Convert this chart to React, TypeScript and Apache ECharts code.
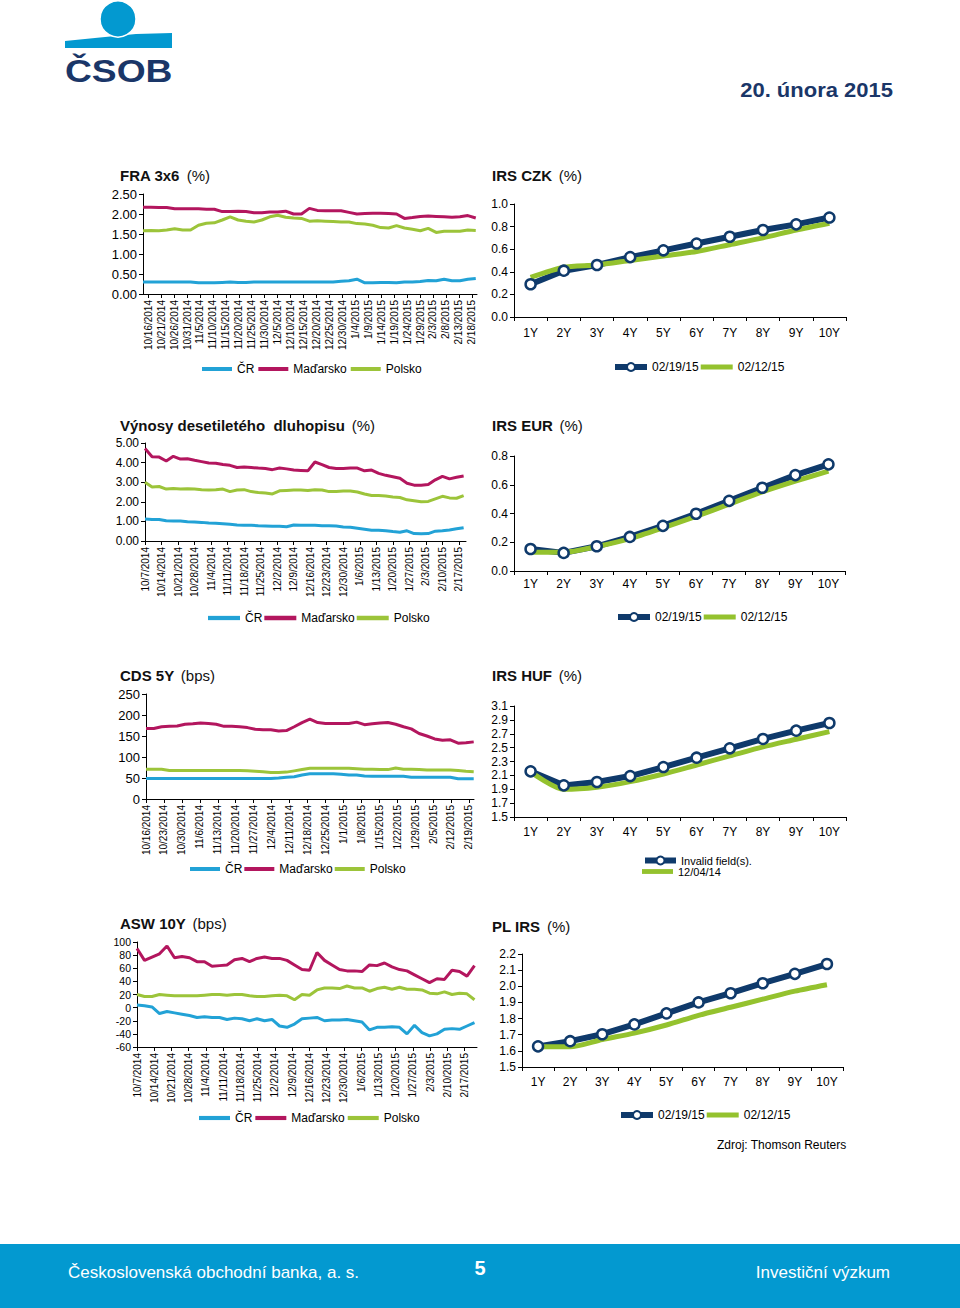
import React, { useEffect, useRef } from "react";
import * as echarts from "echarts";

const FONT = "'Liberation Sans', Arial, Helvetica, sans-serif";
const C_CR = "#22a2d6";
const C_HU = "#b3165e";
const C_PL = "#9cc43a";
const NAVY = "#0f3a6b";
const GREEN = "#94c22e";
const BRAND = "#0399d0";
const BRAND_DARK = "#1a3668";
const BAR4 = "path://M0,0H30V4H0Z";
const BAR5 = "path://M0,0H32V5H0Z";

// ---------- FRA 3x6 (%) : samples from 10/14/2014 ----------
const fraCR = [0.30,0.30,0.30,0.30,0.30,0.30,0.30,0.28,0.28,0.28,0.29,0.30,0.29,0.29,0.30,0.30,0.30,0.30,0.30,0.30,0.30,0.30,0.30,0.30,0.30,0.32,0.33,0.37,0.28,0.28,0.29,0.29,0.28,0.30,0.30,0.31,0.34,0.33,0.37,0.33,0.33,0.37,0.39];
const fraHU = [2.17,2.17,2.16,2.16,2.13,2.13,2.13,2.13,2.12,2.12,2.06,2.06,2.07,2.06,2.03,2.03,2.05,2.05,2.07,2.00,2.00,2.14,2.09,2.08,2.08,2.08,2.04,2.00,2.01,2.02,2.02,2.01,2.00,1.89,1.91,1.94,1.95,1.94,1.93,1.92,1.93,1.96,1.90];
const fraPL = [1.58,1.59,1.58,1.60,1.63,1.60,1.60,1.72,1.77,1.78,1.85,1.93,1.85,1.82,1.80,1.85,1.93,1.97,1.92,1.90,1.89,1.82,1.83,1.82,1.81,1.80,1.80,1.76,1.75,1.72,1.66,1.65,1.71,1.65,1.62,1.58,1.64,1.54,1.57,1.57,1.57,1.60,1.59];

// ---------- Výnosy desetiletého dluhopisu (%) : from 10/7/2014 ----------
const vynCR = [1.12,1.10,1.10,1.03,1.02,1.02,0.98,0.97,0.95,0.92,0.90,0.88,0.85,0.82,0.80,0.80,0.78,0.77,0.75,0.75,0.73,0.82,0.80,0.80,0.80,0.78,0.78,0.76,0.72,0.70,0.65,0.60,0.55,0.55,0.52,0.48,0.45,0.52,0.38,0.37,0.38,0.50,0.52,0.56,0.62,0.68];
const vynHU = [4.72,4.30,4.28,4.08,4.32,4.18,4.20,4.12,4.05,3.98,3.97,3.90,3.86,3.75,3.78,3.75,3.72,3.70,3.64,3.72,3.68,3.62,3.60,3.58,4.03,3.90,3.75,3.70,3.70,3.72,3.72,3.58,3.62,3.45,3.35,3.28,3.20,2.95,2.85,2.85,2.88,3.12,3.30,3.17,3.25,3.32];
const vynPL = [3.00,2.75,2.78,2.65,2.68,2.65,2.66,2.65,2.62,2.60,2.62,2.65,2.52,2.60,2.62,2.52,2.48,2.45,2.40,2.56,2.58,2.60,2.60,2.58,2.62,2.60,2.52,2.53,2.55,2.55,2.50,2.40,2.32,2.32,2.30,2.25,2.22,2.10,2.05,2.00,2.02,2.15,2.28,2.20,2.18,2.32];

// ---------- CDS 5Y (bps) : from 10/16/2014 ----------
const cdsCR = [49,49,49,49,49,49,49,49,49,49,49,49,49,49,49,49,49,50,52,53,57,60,60,60,60,59,57,57,55,54,54,54,54,54,52,52,52,52,52,52,48,48,48];
const cdsHU = [168,168,172,173,174,178,179,181,180,178,173,173,172,170,166,165,165,162,163,172,182,190,182,180,180,180,180,183,177,179,181,182,178,172,167,156,150,143,140,141,133,134,136];
const cdsPL = [71,71,71,68,68,68,68,68,68,68,68,68,68,67,66,65,63,63,64,67,70,73,73,73,73,73,73,72,71,71,70,70,74,71,71,70,69,69,69,69,68,66,65];

// ---------- ASW 10Y (bps) : from 10/7/2014 ----------
const aswCR = [4,3,1,-9,-6,-8,-10,-12,-15,-14,-15,-15,-18,-16,-17,-20,-17,-20,-18,-28,-30,-25,-17,-16,-15,-20,-19,-19,-18,-20,-22,-34,-30,-30,-29,-30,-40,-27,-38,-43,-40,-33,-32,-33,-28,-23];
const aswHU = [90,72,77,82,94,76,78,76,70,70,63,64,65,73,75,70,75,77,75,75,72,65,58,57,84,72,65,58,56,56,55,65,64,68,62,58,56,50,44,38,44,43,57,55,48,64];
const aswPL = [20,17,17,20,19,18,18,18,18,19,20,20,19,20,20,18,17,17,18,19,18,12,20,19,27,30,30,29,33,30,30,25,29,31,28,31,28,28,27,22,21,24,20,22,21,12];

// ---------- IRS curves ----------
const tenors = ["1Y", "2Y", "3Y", "4Y", "5Y", "6Y", "7Y", "8Y", "9Y", "10Y"];
const czk190215 = [0.29,0.41,0.46,0.53,0.59,0.65,0.71,0.77,0.82,0.88];
const czk120215 = [0.35,0.44,0.46,0.50,0.54,0.58,0.64,0.70,0.77,0.83];
const eur190215 = [0.153,0.126,0.172,0.237,0.314,0.398,0.488,0.579,0.667,0.742];
const eur120215 = [0.130,0.130,0.170,0.225,0.300,0.380,0.465,0.550,0.625,0.695];
const hufInvalid = [2.158,1.956,2.004,2.09,2.22,2.355,2.49,2.625,2.745,2.855];
const huf041214 = [2.15,1.90,1.93,2.01,2.12,2.25,2.38,2.51,2.62,2.73];
const pl190215 = [1.628,1.66,1.703,1.764,1.832,1.90,1.957,2.019,2.077,2.138];
const pl120215 = [1.625,1.625,1.67,1.71,1.76,1.82,1.87,1.92,1.97,2.01];

function dayLabel(start: number[], d: number): string {
  const t = new Date(Date.UTC(start[0], start[1] - 1, start[2]) + Math.round(d) * 86400000);
  return t.getUTCMonth() + 1 + "/" + t.getUTCDate() + "/" + t.getUTCFullYear();
}
function tickDays(first: number, step: number, max: number): number[] {
  const a: number[] = [];
  for (let d = first; d <= max; d += step) a.push(d);
  return a;
}

const timeCharts = [
  { box: [143, 194, 334, 100], start: [2014, 10, 14], max: 129, first: 2, step: 5, sampleStep: 3.06,
    yMin: 0, yMax: 2.5, yInt: 0.5, yDec: 2, yFont: 13, cr: fraCR, hu: fraHU, pl: fraPL,
    lg: [202, 370, 30, 4], title: ["FRA 3x6", "(%)"], tpos: [120, 175] },
  { box: [145, 443, 321, 98], start: [2014, 10, 7], max: 136, first: 0, step: 7, sampleStep: 3,
    yMin: 0, yMax: 5, yInt: 1, yDec: 2, yFont: 12, cr: vynCR, hu: vynHU, pl: vynPL,
    lg: [208, 619, 32, 2], title: ["Výnosy desetiletého  dluhopisu", "(%)"], tpos: [120, 425] },
  { box: [146, 694, 328, 105], start: [2014, 10, 16], max: 128, first: 0, step: 7, sampleStep: 3.045,
    yMin: 0, yMax: 250, yInt: 50, yDec: 0, yFont: 13, cr: cdsCR, hu: cdsHU, pl: cdsPL,
    lg: [190, 870, 30, 2], title: ["CDS 5Y", "(bps)"], tpos: [120, 675] },
  { box: [137, 942, 340, 105], start: [2014, 10, 7], max: 138, first: 0, step: 7, sampleStep: 3.044,
    yMin: -60, yMax: 100, yInt: 20, yDec: 0, yFont: 10.5, cr: aswCR, hu: aswHU, pl: aswPL,
    lg: [199, 1119, 31, 3], title: ["ASW 10Y", "(bps)"], tpos: [120, 923] },
];

const irsCharts = [
  { box: [514, 204, 332, 113], yMin: 0, yMax: 1, yInt: 0.2, margin: 10, a: czk190215, b: czk120215,
    names: ["02/19/15", "02/12/15"], lg: [612, 368], vertical: false, title: ["IRS CZK", "(%)"], tpos: [492, 175] },
  { box: [514, 456, 331, 115], yMin: 0, yMax: 0.8, yInt: 0.2, margin: 7, a: eur190215, b: eur120215,
    names: ["02/19/15", "02/12/15"], lg: [615, 618], vertical: false, title: ["IRS EUR", "(%)"], tpos: [492, 425] },
  { box: [514, 706, 332, 111], yMin: 1.5, yMax: 3.1, yInt: 0.2, margin: 9, a: hufInvalid, b: huf041214,
    names: ["Invalid field(s).", "12/04/14"], lg: [642, 862], vertical: true, title: ["IRS HUF", "(%)"], tpos: [492, 675] },
  { box: [522, 954, 321, 113], yMin: 1.5, yMax: 2.2, yInt: 0.1, margin: 9, a: pl190215, b: pl120215,
    names: ["02/19/15", "02/12/15"], lg: [618, 1116], vertical: false, title: ["PL IRS", "(%)"], tpos: [492, 926] },
];

function titleEl(x: number, y: number, bold: string, unit: string) {
  return {
    type: "text", x, y, silent: true,
    style: {
      text: "{b|" + bold + "}  {n|" + unit + "}",
      rich: {
        b: { fontSize: 15, fontWeight: "bold", fontFamily: FONT, fill: "#111", color: "#111" },
        n: { fontSize: 15, fontFamily: FONT, fill: "#111", color: "#111" },
      },
      verticalAlign: "middle", textVerticalAlign: "middle",
    },
  };
}

function textEl(x: number, y: number, text: string, size: number, color: string, align: string, bold = false, scaleX = 1) {
  return {
    type: "text", x, y, scaleX, silent: true,
    style: {
      text, fontSize: size, fontFamily: FONT, fontWeight: bold ? "bold" : "normal", fill: color,
      align, textAlign: align, verticalAlign: "middle", textVerticalAlign: "middle",
    },
  };
}

function legendCfg(items: any[], left: number, cy: number, itemW: number, gap: number, fontSize = 12, lineW = 4) {
  return {
    show: true, data: items, left, top: cy - 7, orient: "horizontal",
    itemWidth: itemW, itemHeight: 10, itemGap: gap, padding: 0, selectedMode: false,
    lineStyle: { width: lineW },
    textStyle: { fontSize, fontFamily: FONT, color: "#000" },
  };
}

function buildOption() {
  const grid: any[] = [];
  const xAxis: any[] = [];
  const yAxis: any[] = [];
  const series: any[] = [];
  const legend: any[] = [];
  const axisLine = { show: true, onZero: false, lineStyle: { color: "#000", width: 1 } };
  const tick = { show: true, length: 4, lineStyle: { color: "#000", width: 1 } };

  timeCharts.forEach((c) => {
    const gi = grid.length;
    grid.push({ left: c.box[0], top: c.box[1], width: c.box[2], height: c.box[3], containLabel: false, outerBoundsMode: "none" });
    const ticks = tickDays(c.first, c.step, c.max);
    xAxis.push({
      type: "value", gridIndex: gi, min: 0, max: c.max,
      axisLine, axisTick: { ...tick, customValues: ticks },
      axisLabel: {
        show: true, customValues: ticks, rotate: 90, margin: 6, fontSize: 10, fontFamily: FONT, color: "#000",
        formatter: (v: number) => dayLabel(c.start, v),
      },
      splitLine: { show: false },
    });
    yAxis.push({
      type: "value", gridIndex: gi, min: c.yMin, max: c.yMax, interval: c.yInt,
      axisLine, axisTick: tick,
      axisLabel: { show: true, margin: 6, fontSize: c.yFont, fontFamily: FONT, color: "#000", formatter: (v: number) => v.toFixed(c.yDec) },
      splitLine: { show: false },
    });
    const trio: [string, string, number[]][] = [["ČR", C_CR, c.cr], ["Maďarsko", C_HU, c.hu], ["Polsko", C_PL, c.pl]];
    trio.forEach(([name, color, vals]) => {
      series.push({
        type: "line", name, xAxisIndex: gi, yAxisIndex: gi, silent: true,
        data: vals.map((v, i) => [i * c.sampleStep, v]),
        symbol: "none", showSymbol: false,
        lineStyle: { width: 3, color }, itemStyle: { color },
      });
    });
    legend.push(legendCfg(["ČR", "Maďarsko", "Polsko"].map((n) => ({ name: n, icon: BAR4 })), c.lg[0], c.lg[1], c.lg[2], c.lg[3]));
  });

  irsCharts.forEach((c) => {
    const gi = grid.length;
    grid.push({ left: c.box[0], top: c.box[1], width: c.box[2], height: c.box[3], containLabel: false, outerBoundsMode: "none" });
    xAxis.push({
      type: "category", gridIndex: gi, data: tenors, boundaryGap: true,
      axisLine, axisTick: { ...tick, alignWithLabel: false, interval: 0 },
      axisLabel: { show: true, interval: 0, margin: c.margin, fontSize: 12, fontFamily: FONT, color: "#000" },
      splitLine: { show: false },
    });
    yAxis.push({
      type: "value", gridIndex: gi, min: c.yMin, max: c.yMax, interval: c.yInt,
      axisLine, axisTick: tick,
      axisLabel: { show: true, margin: 6, fontSize: 12, fontFamily: FONT, color: "#000", formatter: (v: number) => v.toFixed(1) },
      splitLine: { show: false },
    });
    series.push({
      type: "line", name: c.names[0], xAxisIndex: gi, yAxisIndex: gi, silent: true,
      data: c.a, symbol: "circle", symbolSize: 10, showSymbol: true,
      itemStyle: { color: "#fff", borderColor: NAVY, borderWidth: 2.5 },
      lineStyle: { color: NAVY, width: 6 },
    });
    series.push({
      type: "line", name: c.names[1], xAxisIndex: gi, yAxisIndex: gi, silent: true,
      data: c.b, symbol: "none", showSymbol: false, smooth: 0.25,
      itemStyle: { color: GREEN }, lineStyle: { color: GREEN, width: 5 },
    });
    const itemA = { name: c.names[0] };
    const itemB = { name: c.names[1], icon: BAR5 };
    if (c.vertical) {
      legend.push(legendCfg([itemA], c.lg[0], c.lg[1], 31, 2, 11, 6));
      legend.push(legendCfg([itemB], c.lg[0], c.lg[1] + 11, 31, 2, 11, 6));
    } else {
      legend.push(legendCfg([itemA, itemB], c.lg[0], c.lg[1], 32, 2, 12, 6));
    }
  });

  const elements: any[] = [
    // footer band
    { type: "rect", silent: true, shape: { x: 0, y: 1244, width: 960, height: 64 }, style: { fill: BRAND } },
    // logo
    { type: "polygon", silent: true, shape: { points: [[65, 41], [100, 37.5], [136, 34], [172, 33], [172, 48], [65, 48]] }, style: { fill: BRAND } },
    { type: "circle", silent: true, shape: { cx: 118, cy: 19, r: 18 }, style: { fill: BRAND, stroke: "#fff", lineWidth: 1.5 } },
    textEl(65, 71, "ČSOB", 31, BRAND_DARK, "left", true, 1.2),
    textEl(893, 90, "20. února 2015", 20, BRAND_DARK, "right", true, 1.1),
    // footer texts
    textEl(68, 1272, "Československá obchodní banka, a. s.", 17, "#fff", "left"),
    textEl(480, 1268, "5", 20, "#fff", "center", true),
    textEl(890, 1272, "Investiční výzkum", 17, "#fff", "right"),
    textEl(717, 1145, "Zdroj: Thomson Reuters", 12, "#000", "left"),
  ];
  timeCharts.forEach((c) => elements.push(titleEl(c.tpos[0], c.tpos[1], c.title[0], c.title[1])));
  irsCharts.forEach((c) => elements.push(titleEl(c.tpos[0], c.tpos[1], c.title[0], c.title[1])));

  return {
    animation: false,
    backgroundColor: "#fff",
    textStyle: { fontFamily: FONT },
    tooltip: { show: false },
    grid, xAxis, yAxis, series, legend,
    graphic: { elements },
  };
}

export default function App() {
  const ref = useRef<HTMLDivElement>(null);
  useEffect(() => {
    document.body.style.margin = "0";
    const chart = echarts.init(ref.current as HTMLDivElement, undefined, { renderer: "svg" });
    chart.setOption(buildOption() as any);
    return () => chart.dispose();
  }, []);
  return (
    <div
      ref={ref}
      style={{ position: "absolute", left: 0, top: 0, width: 960, height: 1308, background: "#fff" }}
    />
  );
}
